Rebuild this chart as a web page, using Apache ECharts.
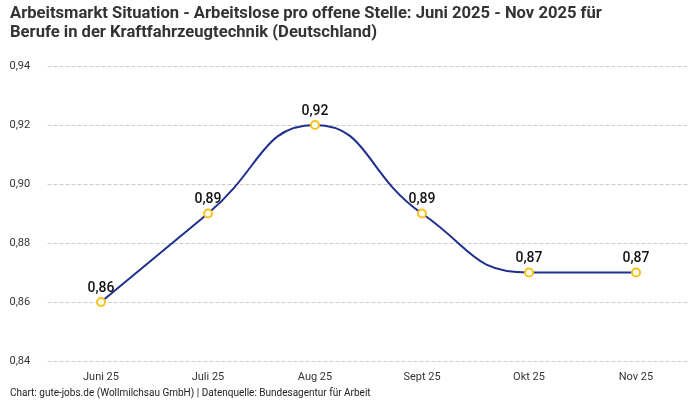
<!DOCTYPE html>
<html><head><meta charset="utf-8">
<script src="https://cdn.jsdelivr.net/npm/echarts@6/dist/echarts.min.js"></script>
<style>html,body{margin:0;padding:0;background:#fff}#c{width:700px;height:400px}</style>
</head><body><div id="c"></div>
<script>
const categories = ['Juni 25','Juli 25','Aug 25','Sept 25','Okt 25','Nov 25'];
const values = [0.86, 0.89, 0.92, 0.89, 0.87, 0.87];
const titleText = 'Arbeitsmarkt Situation - Arbeitslose pro offene Stelle: Juni 2025 - Nov 2025 für\nBerufe in der Kraftfahrzeugtechnik (Deutschland)';
const footerText = 'Chart: gute-jobs.de (Wollmilchsau GmbH) | Datenquelle: Bundesagentur für Arbeit';
const fmt = v => v.toFixed(2).replace('.', ',');
const chart = echarts.init(document.getElementById('c'));
chart.setOption({
  animation:false,
  title:[{text:titleText,left:5,top:-1,textStyle:{fontFamily:'Roboto, sans-serif',fontWeight:'bold',fontSize:16.6,color:'#333',lineHeight:19}},
         {text:footerText,left:5,top:383,textStyle:{fontFamily:'Roboto, sans-serif',fontWeight:'normal',fontSize:10,color:'#222'}}],
  grid:{left:47.5,right:10.5,top:66,bottom:39,containLabel:false},
  xAxis:{type:'category',data:categories,boundaryGap:true,
    axisLine:{show:false},axisTick:{show:false},
    axisLabel:{color:'#333',fontSize:11,fontFamily:'Roboto, sans-serif',margin:11}},
  yAxis:{type:'value',min:0.84,max:0.94,interval:0.02,
    axisLine:{show:false},axisTick:{show:false},
    splitLine:{lineStyle:{type:'dashed',color:'#ccc',width:1}},
    axisLabel:{formatter:fmt,color:'#333',fontSize:11,fontFamily:'Roboto, sans-serif',align:'left',margin:38}},
  series:[{type:'line',data:values,smooth:true,
    lineStyle:{color:'#1f2f8f',width:2},
    itemStyle:{color:'#fff',borderColor:'#f7c21b',borderWidth:2},
    symbol:'circle',symbolSize:8,
    label:{show:true,position:'top',formatter:p=>fmt(p.value),fontSize:14,fontWeight:500,color:'#111',fontFamily:'Roboto, sans-serif',distance:2}}]
});
</script></body></html>
